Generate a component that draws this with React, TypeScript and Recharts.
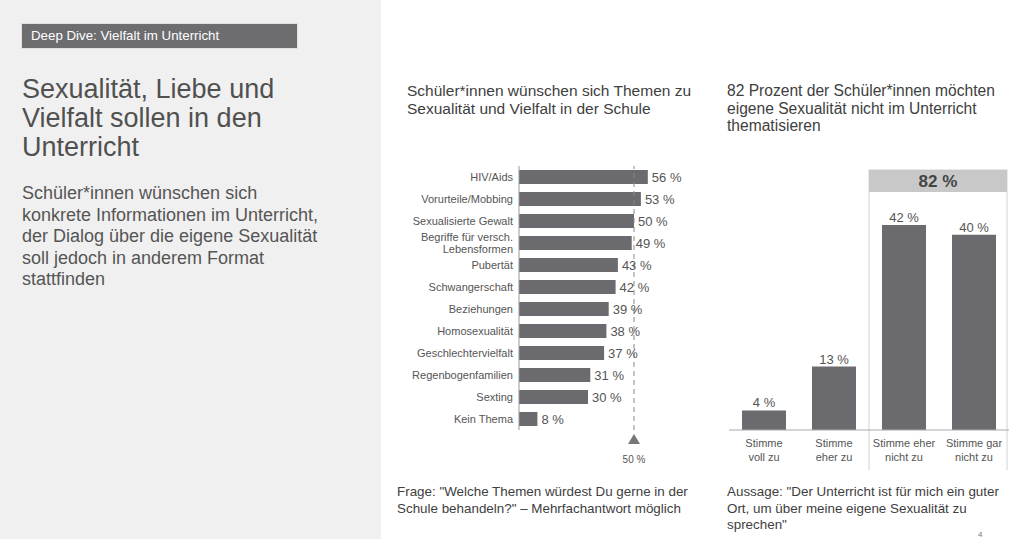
import React from 'react';
import {
  BarChart,
  Bar,
  XAxis,
  YAxis,
  LabelList,
  ReferenceLine,
  ReferenceArea,
} from 'recharts';

// Left chart: topics students want at school (multiple answers)
const topics = [
  'HIV/Aids',
  'Vorurteile/Mobbing',
  'Sexualisierte Gewalt',
  'Begriffe für versch.\nLebensformen',
  'Pubertät',
  'Schwangerschaft',
  'Beziehungen',
  'Homosexualität',
  'Geschlechtervielfalt',
  'Regenbogenfamilien',
  'Sexting',
  'Kein Thema',
];
const topicShares = [56, 53, 50, 49, 43, 42, 39, 38, 37, 31, 30, 8];
const marker = 50;

// Right chart: agreement with the statement
const answers = [
  'Stimme\nvoll zu',
  'Stimme\neher zu',
  'Stimme eher\nnicht zu',
  'Stimme gar\nnicht zu',
];
const answerShares = [4, 13, 42, 40];

const topicData = topics.map((name, i) => ({ name, value: topicShares[i] }));
const answerData = answers.map((name, i) => ({ name, value: answerShares[i] }));
const disagreeTotal = answerShares[2] + answerShares[3];

const FONT = '"Liberation Sans", Arial, sans-serif';
const BAR = '#6b6b6f';
const TEXT = '#555555';

const TopicTick = (props: any) => {
  const { x, y, payload } = props;
  const lines = String(payload.value).split('\n');
  const start = -((lines.length - 1) * 12) / 2;
  return (
    <text x={x} y={y} textAnchor="end" fontSize={11} fill={TEXT} fontFamily={FONT}>
      {lines.map((l, i) => (
        <tspan key={i} x={x} dy={i === 0 ? start + 4 : 12}>
          {l}
        </tspan>
      ))}
    </text>
  );
};

const AnswerTick = (props: any) => {
  const { x, y, payload } = props;
  const lines = String(payload.value).split('\n');
  return (
    <text x={x} y={y} textAnchor="middle" fontSize={11} fill={TEXT} fontFamily={FONT}>
      {lines.map((l, i) => (
        <tspan key={i} x={x} dy={i === 0 ? 17 : 14}>
          {l}
        </tspan>
      ))}
    </text>
  );
};

const ValueLabel = (props: any) => {
  const { x, y, width, height, value } = props;
  return (
    <text
      x={x + width + 4}
      y={y + height / 2 + 5}
      fontSize={13}
      fill={TEXT}
      fontFamily={FONT}
    >
      {value} %
    </text>
  );
};

const MarkerLabel = (props: any) => {
  const vb = props.viewBox || {};
  const x = vb.x;
  const bottom = vb.y + vb.height;
  return (
    <g>
      <polygon
        points={`${x - 6},${bottom + 14} ${x + 6},${bottom + 14} ${x},${bottom + 4}`}
        fill="#777"
      />
      <text x={x} y={bottom + 33} textAnchor="middle" fontSize={10} fill={TEXT} fontFamily={FONT}>
        {marker} %
      </text>
    </g>
  );
};

const DisagreeBox = (props: any) => {
  const { x, y, width, height } = props;
  const left = x;
  const right = x + width - 2;
  const top = y - 16;
  const bottom = y + height + 43;
  return (
    <g>
      <rect x={left} y={top} width={right - left} height={bottom - top} fill="none" stroke="#d4d4d4" />
      <rect x={left} y={top} width={right - left} height={22} fill="#c8c8c8" />
      <text
        x={(left + right) / 2}
        y={top + 17}
        textAnchor="middle"
        fontSize={17}
        fontWeight="bold"
        fill="#444"
        fontFamily={FONT}
      >
        {disagreeTotal} %
      </text>
    </g>
  );
};

const abs = (left: number, top: number, extra: React.CSSProperties = {}): React.CSSProperties => ({
  position: 'absolute',
  left,
  top,
  ...extra,
});

export default function App() {
  return (
    <div
      style={{
        position: 'fixed',
        left: 0,
        top: 0,
        width: 1024,
        height: 539,
        background: '#fff',
        fontFamily: FONT,
        overflow: 'hidden',
      }}
    >
      {/* left panel */}
      <div style={abs(0, 0, { width: 381, height: 539, background: '#f0f0f0' })} />
      <div
        style={abs(21, 23, {
          width: 277,
          height: 26,
          background: '#6d6d70',
          border: '1px solid #e0e0e0',
          boxSizing: 'border-box',
          color: '#fff',
          fontSize: 13.3,
          lineHeight: '24px',
          paddingLeft: 9,
          whiteSpace: 'nowrap',
        })}
      >
        Deep Dive: Vielfalt im Unterricht
      </div>
      <div
        style={abs(22, 75, {
          width: 350,
          fontSize: 27,
          lineHeight: '29px',
          color: '#505050',
          whiteSpace: 'nowrap',
        })}
      >
        Sexualität, Liebe und
        <br />
        Vielfalt sollen in den
        <br />
        Unterricht
      </div>
      <div
        style={abs(22, 183, {
          width: 350,
          fontSize: 18,
          lineHeight: '21.5px',
          color: '#555',
          whiteSpace: 'nowrap',
        })}
      >
        Schüler*innen wünschen sich
        <br />
        konkrete Informationen im Unterricht,
        <br />
        der Dialog über die eigene Sexualität
        <br />
        soll jedoch in anderem Format
        <br />
        stattfinden
      </div>

      {/* middle chart */}
      <div style={abs(407, 82, { fontSize: 15.5, lineHeight: '17.5px', color: '#404040', whiteSpace: 'nowrap' })}>
        Schüler*innen wünschen sich Themen zu
        <br />
        Sexualität und Vielfalt in der Schule
      </div>
      <div style={abs(390, 166)}>
        <BarChart
          width={320}
          height={300}
          data={topicData}
          layout="vertical"
          margin={{ top: 0, right: 53, bottom: 36, left: 0 }}
        >
          <XAxis type="number" domain={[0, 60]} hide />
          <YAxis
            type="category"
            dataKey="name"
            width={129}
            tickLine={false}
            tickSize={0}
            tickMargin={6}
            axisLine={{ stroke: '#999' }}
            tick={<TopicTick />}
            interval={0}
          />
          <Bar dataKey="value" fill={BAR} barSize={14} isAnimationActive={false}>
            <LabelList dataKey="value" content={<ValueLabel />} />
          </Bar>
          <ReferenceLine
            x={marker}
            stroke="#888"
            strokeDasharray="5 4"
            label={<MarkerLabel />}
          />
        </BarChart>
      </div>
      <div style={abs(397, 484, { fontSize: 13.4, lineHeight: '16.5px', color: '#404040', whiteSpace: 'nowrap' })}>
        Frage: "Welche Themen würdest Du gerne in der
        <br />
        Schule behandeln?" – Mehrfachantwort möglich
      </div>

      {/* right chart */}
      <div style={abs(727, 82, { fontSize: 15.6, lineHeight: '17.5px', color: '#404040', whiteSpace: 'nowrap' })}>
        82 Prozent der Schüler*innen möchten
        <br />
        eigene Sexualität nicht im Unterricht
        <br />
        thematisieren
      </div>
      <div style={abs(720, 160)}>
        <BarChart
          width={304}
          height={310}
          data={answerData}
          margin={{ top: 26, right: 15, bottom: 0, left: 9 }}
        >
          <ReferenceArea
            x1={answers[2]}
            x2={answers[3]}
            y1={0}
            y2={50}
            ifOverflow="visible"
            shape={<DisagreeBox />}
          />
          <XAxis
            dataKey="name"
            height={40}
            tickLine={false}
            tickSize={0}
            tickMargin={0}
            axisLine={{ stroke: '#aaa' }}
            tick={<AnswerTick />}
            interval={0}
          />
          <YAxis domain={[0, 50]} hide />
          <Bar dataKey="value" fill={BAR} barSize={44} isAnimationActive={false}>
            <LabelList
              dataKey="value"
              position="top"
              offset={3}
              formatter={(v: any) => `${v} %`}
              style={{ fontSize: 13, fill: TEXT, fontFamily: FONT }}
            />
          </Bar>
        </BarChart>
      </div>
      <div style={abs(727, 484, { fontSize: 13.4, lineHeight: '16.5px', color: '#404040', whiteSpace: 'nowrap' })}>
        Aussage: "Der Unterricht ist für mich ein guter
        <br />
        Ort, um über meine eigene Sexualität zu
        <br />
        sprechen"
      </div>
      <div style={abs(978, 530, { fontSize: 8, color: '#777' })}>4</div>
    </div>
  );
}
